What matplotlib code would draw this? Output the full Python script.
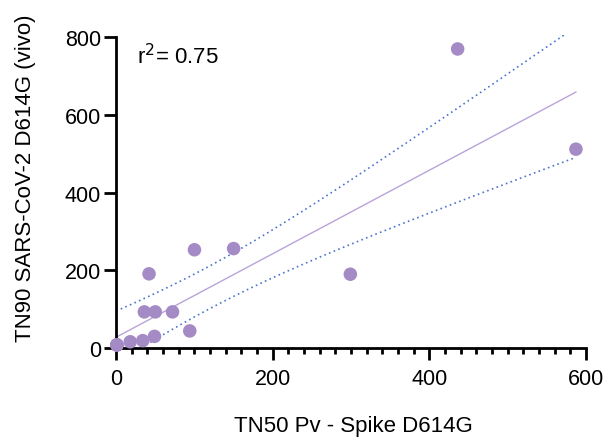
import numpy as np
import matplotlib.pyplot as plt
from matplotlib.ticker import MultipleLocator

plt.rcParams['font.family'] = ['Liberation Sans', 'DejaVu Sans']

# Données (les 3 derniers points sont cachés sous le premier)
tn50_pv = [1, 18, 34, 49, 36, 50, 72, 42, 100, 94, 150, 299, 436, 587, 1, 1, 1]
tn90_vivo = [8, 16, 19, 30, 93, 93, 93, 191, 253, 44, 256, 190, 770, 512, 8, 8, 8]
r2_label = 'r$^2$= 0.75'

x = np.array(tn50_pv, dtype=float)
y = np.array(tn90_vivo, dtype=float)
n = len(x)

# Régression linéaire + IC 95 %
b, a = np.polyfit(x, y, 1)
res = y - (a + b * x)
s = np.sqrt(np.sum(res**2) / (n - 2))
t_crit = 2.131  # t(0.975, ddl=15)
xs = np.linspace(0, x.max(), 200)
ys = a + b * xs
se = s * np.sqrt(1 / n + (xs - x.mean())**2 / np.sum((x - x.mean())**2))

fig = plt.figure(figsize=(6.08, 4.39), dpi=100)
ax = fig.add_axes([0.191, 0.205, 0.773, 0.713])

ax.plot(xs, ys, color='#b9a3d8', lw=1.0, zorder=2)
ax.plot(xs, ys + t_crit * se, color='#4f74cf', lw=1.2, ls=(0, (1, 2)), zorder=2)
ax.plot(xs, ys - t_crit * se, color='#4f74cf', lw=1.2, ls=(0, (1, 2)), zorder=2)
ax.scatter(x, y, s=95, color='#a58bc6', edgecolors='none', zorder=3, clip_on=False)

ax.set_xlim(0, 600)
ax.set_ylim(0, 806)
ax.spines['left'].set_bounds(0, 800)
ax.spines['top'].set_visible(False)
ax.spines['right'].set_visible(False)
for sp in ['left', 'bottom']:
    ax.spines[sp].set_linewidth(2.0)
ax.xaxis.set_major_locator(MultipleLocator(200))
ax.xaxis.set_minor_locator(MultipleLocator(20))
ax.yaxis.set_major_locator(MultipleLocator(200))
ax.tick_params(which='major', length=8.5, width=2.0, labelsize=15.5)
ax.tick_params(axis='x', which='major', pad=6)
ax.tick_params(axis='y', which='major', pad=2.5)
ax.tick_params(which='minor', length=4.5, width=2.0)

ax.set_xlabel('TN50 Pv - Spike D614G', fontsize=16)
ax.set_ylabel('TN90 SARS-CoV-2 D614G (vivo)', fontsize=16)
ax.xaxis.set_label_coords(0.505, -0.215)
ax.yaxis.set_label_coords(-0.17, 0.545)
ax.text(0.045, 0.935, r2_label, transform=ax.transAxes, fontsize=16, va='center')

fig.savefig('out.png', dpi=100)
